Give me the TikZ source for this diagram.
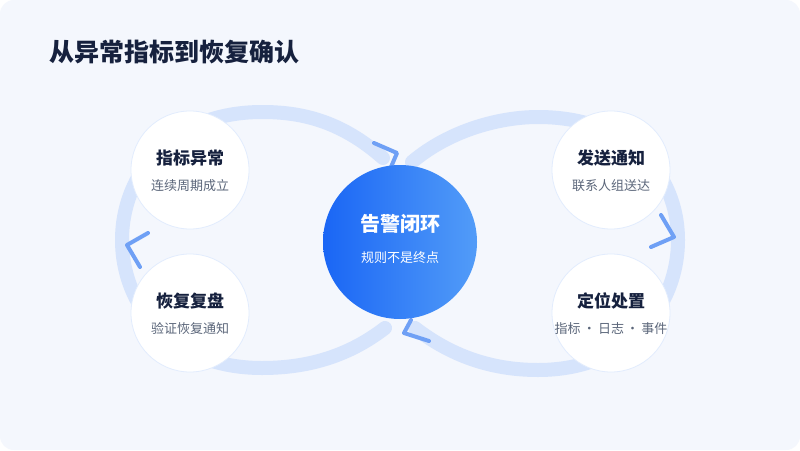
\documentclass[tikz,border=0pt]{standalone}
\usepackage{fontspec}
\setmainfont{Noto Sans CJK SC}
\usetikzlibrary{shadings}
\definecolor{bg}{HTML}{F4F7FD}
\definecolor{lpc}{HTML}{D6E4FC}
\definecolor{chev}{HTML}{6FA0F5}
\definecolor{ttl}{HTML}{16213E}
\definecolor{sub}{HTML}{5B667A}
\definecolor{ga}{HTML}{1A66F5}
\definecolor{gb}{HTML}{529CF8}
\begin{document}
\begin{tikzpicture}[x=1pt,y=-1pt,
  lp/.style={line width=14pt,draw=lpc,line cap=round},
  ch/.style={line width=4pt,draw=chev,line cap=round,line join=round},
  sm/.style={circle,minimum size=118pt,fill=white,draw=lpc!70,line width=0.8pt},
  hd/.style={font=\fontsize{17}{20}\selectfont\bfseries,text=ttl},
  sb/.style={font=\fontsize{13}{16}\selectfont,text=sub}]
\useasboundingbox (0,0) rectangle (800,450);
\fill[white] (0,0) rectangle (800,450);
\fill[bg,rounded corners=14pt] (0,0) rectangle (800,450);
\node[anchor=west,font=\fontsize{25}{29}\selectfont\bfseries,text=ttl] (title) at (46,52) {从异常指标到恢复确认};
\draw[lp] (383,158) .. controls (340,120) and (300,112) .. (262,112) .. controls (170,112) and (122,175) .. (122,240) .. controls (122,305) and (170,368) .. (262,368) .. controls (310,368) and (350,355) .. (385,328);
\draw[lp] (412,162) .. controls (450,130) and (500,117) .. (538,117) .. controls (630,117) and (678,175) .. (678,240) .. controls (678,305) and (630,370) .. (538,370) .. controls (490,370) and (450,355) .. (415,328);
\draw[ch] (374,143) -- (397,153) -- (391,167);
\draw[ch] (148,233) -- (127,245) -- (140,267);
\draw[ch] (661,215) -- (674,237) -- (651,247);
\draw[ch] (411,320) -- (404,333) -- (429,341);
\shade[left color=ga,right color=gb] (400,242) circle (77);
\node[circle,minimum size=154pt] (c) at (400,242) {};
\node[font=\fontsize{20}{24}\selectfont\bfseries,text=white] (ct) at (400,224) {告警闭环};
\node[font=\fontsize{13}{16}\selectfont,text=white] (cs) at (400,258) {规则不是终点};
\node[sm] (a) at (190,170) {};
\node[sm] (b) at (611,170) {};
\node[sm] (d) at (611,313) {};
\node[sm] (e) at (190,313) {};
\node[hd] at (190,158) {指标异常}; \node[sb] at (190,186) {连续周期成立};
\node[hd] at (611,158) {发送通知}; \node[sb] at (611,186) {联系人组送达};
\node[hd] at (611,301) {定位处置}; \node[sb] at (611,329) {指标\,·\,日志\,·\,事件};
\node[hd] at (190,301) {恢复复盘}; \node[sb] at (190,329) {验证恢复通知};
\end{tikzpicture}
\end{document}
